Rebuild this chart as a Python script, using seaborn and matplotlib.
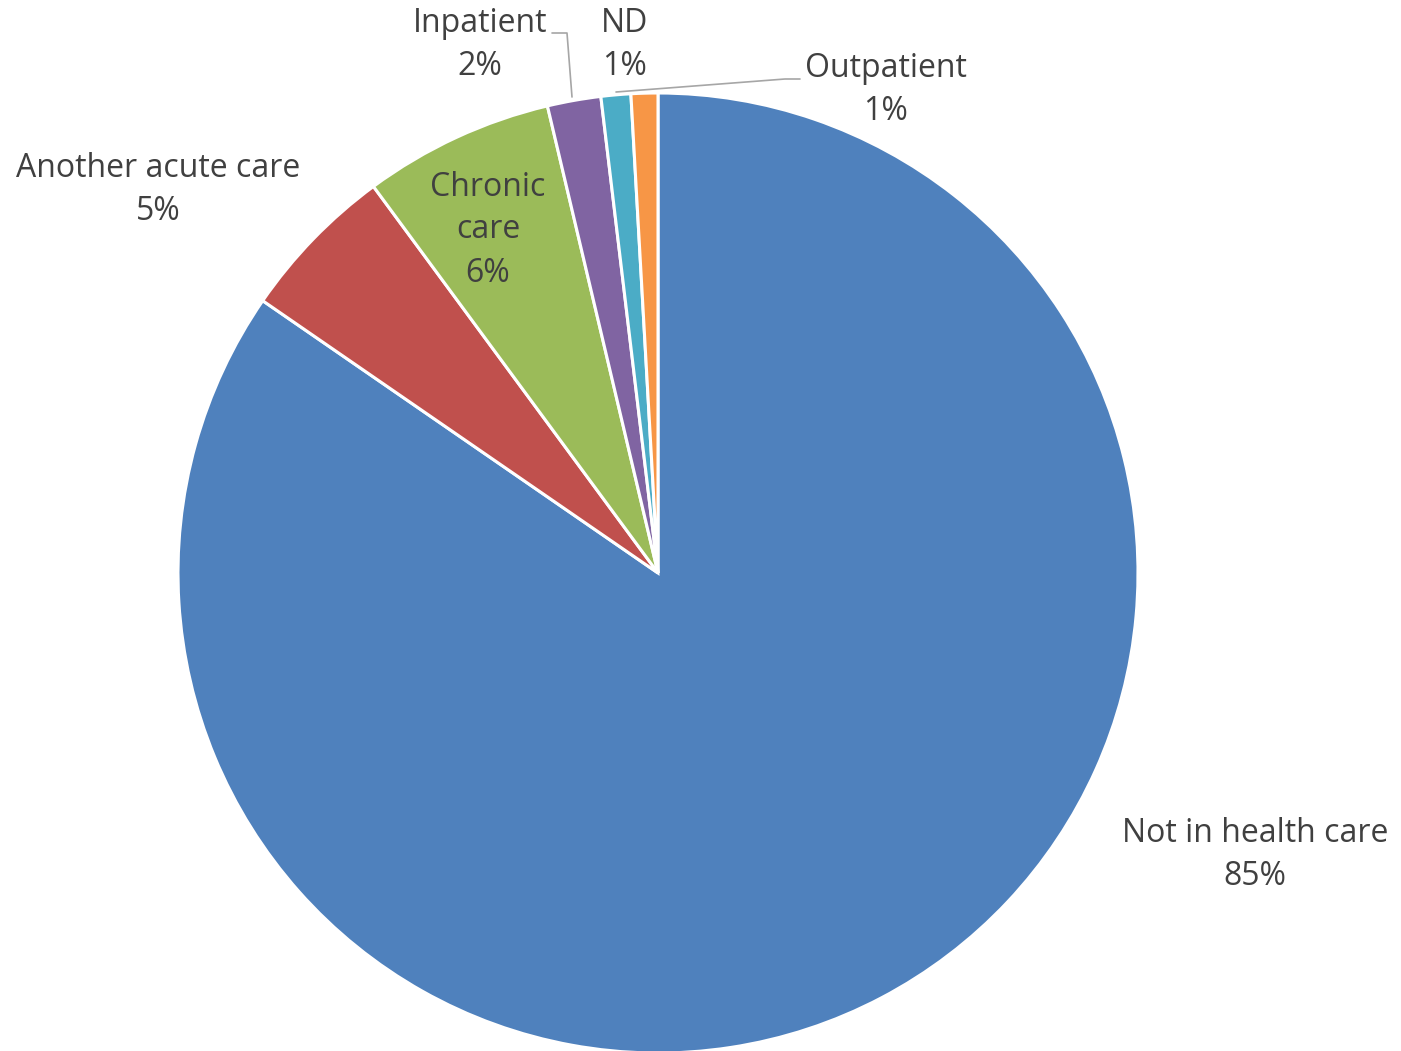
import matplotlib
matplotlib.use('Agg')
from matplotlib import pyplot as plt
import seaborn as sns

sns.set_theme(style='white')
plt.rcParams['font.family'] = ['Open Sans', 'DejaVu Sans']

# share of patients by setting (clockwise from 12 o'clock)
categories = ['Not in health care', 'Another acute care', 'Chronic care', 'Inpatient', 'ND', 'Outpatient']
shares = [84.6, 5.3, 6.4, 1.8, 1.0, 0.9]
colors = ['#4F81BD', '#C0504D', '#9BBB59', '#8064A2', '#4BACC6', '#F79646']

W, H = 1401, 1051
fig = plt.figure(figsize=(W / 100, H / 100), dpi=100)
ax = fig.add_axes([0, 0, 1, 1])

cx, cy, r = 658, H - 573, 480
wedges, _ = ax.pie(shares, colors=colors, startangle=90, counterclock=False,
                   center=(cx, cy), radius=r, frame=True,
                   wedgeprops=dict(edgecolor='white', linewidth=2.2))
for w in wedges:
    w.set_clip_on(False)
ax.set_xlim(0, W)
ax.set_ylim(0, H)
ax.set_aspect('equal')
ax.axis('off')

total = sum(shares)
pct = [f'{round(v / total * 100)}%' for v in shares]
txt = dict(color='#404040', fontsize=23, ha='center', va='center', linespacing=1.4)

# label positions in pixel space (y measured from the top)
ax.text(1255, H - 855, f'{categories[0]}\n{pct[0]}', **txt)
ax.text(158, H - 190, f'{categories[1]}\n{pct[1]}', **txt)
ax.text(488, H - 230, f'Chronic\ncare\n{pct[2]}', **txt)
ax.text(480, H - 45, f'{categories[3]}\n{pct[3]}', **txt)
ax.text(625, H - 45, f'{categories[4]}\n{pct[4]}', **txt)
ax.text(886, H - 90, f'{categories[5]}\n{pct[5]}', **txt)

# leader lines
lc = dict(color='#A6A6A6', linewidth=1.2)
ax.plot([552, 567, 572], [H - 33, H - 33, H - 97], **lc)
ax.plot([800, 785, 616], [H - 79, H - 79, H - 92], **lc)

fig.savefig('out.png', dpi=100)
